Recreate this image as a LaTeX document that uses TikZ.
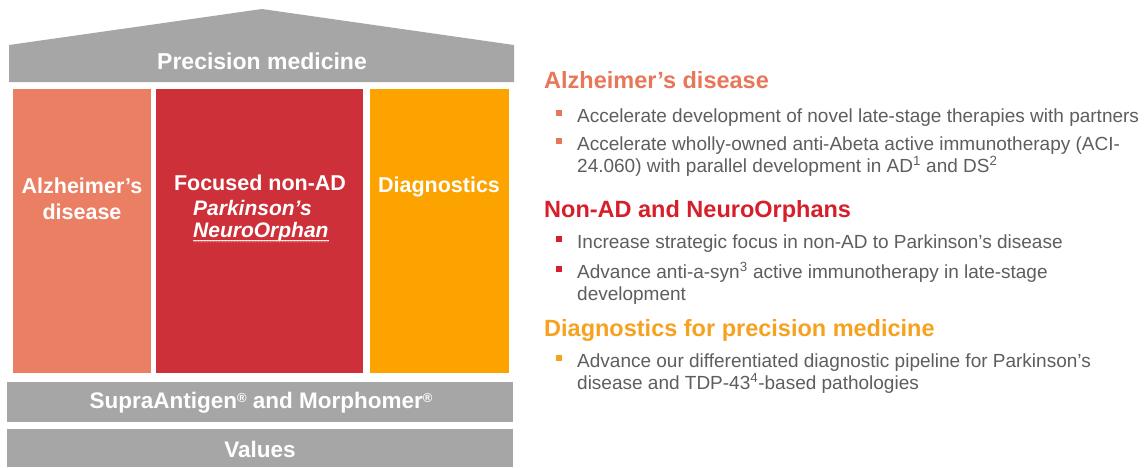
\documentclass[tikz,border=0pt]{standalone}
\usepackage{fontspec}
\setmainfont{Liberation Sans}
\usetikzlibrary{decorations.pathmorphing}
\definecolor{roofgray}{HTML}{A6A6A6}
\definecolor{alzc}{HTML}{EA7F63}
\definecolor{nonadc}{HTML}{CD3038}
\definecolor{diagc}{HTML}{FDA300}
\definecolor{alzh}{HTML}{E8775A}
\definecolor{nonadh}{HTML}{D71F2B}
\definecolor{diagh}{HTML}{F7A21E}
\definecolor{bodyc}{HTML}{5E5E5E}
\newcommand{\regsup}{\raisebox{0.55ex}{\fontsize{13}{13}\selectfont\bfseries ®}}
\begin{document}
\begin{tikzpicture}[x=1pt,y=-1pt,
  lbl/.style={text=white,font=\fontsize{21.5}{26}\selectfont\bfseries,inner sep=0pt,align=center},
  ital/.style={text=white,font=\fontsize{21}{25}\selectfont\bfseries\itshape,inner sep=0pt,anchor=west},
  pillar/.style={fill=#1,minimum height=284pt,inner sep=0pt,anchor=north west},
  band/.style={fill=roofgray,minimum width=506pt,inner sep=0pt,anchor=north west},
  hdr/.style={anchor=base west,inner sep=0pt,font=\fontsize{23.5}{27}\selectfont\bfseries},
  body/.style={anchor=base west,inner sep=0pt,text=bodyc,font=\fontsize{19}{22}\selectfont},
  bul/.style={fill=#1,minimum size=5.5pt,inner sep=0pt,anchor=center}]
\useasboundingbox[fill=white] (0,0) rectangle (1145,467);
% roof
\fill[roofgray] (9,45) -- (262,9) -- (514,45) -- (514,82) -- (9,82) -- cycle;
\node[lbl,font=\fontsize{23}{27}\selectfont\bfseries] (prec) at (262,61) {Precision medicine};
% pillars
\node[pillar=alzc,minimum width=138pt] (col1) at (13,89) {};
\node[pillar=nonadc,minimum width=207pt] (col2) at (156,89) {};
\node[pillar=diagc,minimum width=139pt] (col3) at (370,89) {};
\node[lbl] (alzl) at (82,199) {Alzheimer’s\\disease};
\node[lbl] (focl) at (260,183) {Focused non-AD};
\node[ital] (park) at (193,208) {Parkinson’s};
\node[ital] (neuro) at (193,232) {NeuroOrphan};
\draw[white,line width=0.9pt] ([yshift=2pt]neuro.south west) -- ([yshift=2pt]neuro.south east);
\draw[red!55!white,line width=0.6pt,decorate,decoration={snake,amplitude=0.7pt,segment length=3pt}]
  ([yshift=0.5pt]neuro.south west) -- ([yshift=0.5pt]neuro.south east);
\node[lbl] (diagl) at (439,187) {Diagnostics};
% foundation bands
\node[band,minimum height=40pt] (supra) at (7,382) {};
\node[lbl,font=\fontsize{22.5}{26}\selectfont\bfseries] (supral) at (261,403) {SupraAntigen\regsup{} and Morphomer\regsup};
\node[band,minimum height=38pt] (vals) at (7,429) {};
\node[lbl,font=\fontsize{22.5}{26}\selectfont\bfseries] (valsl) at (260,449) {Values};
% right text
\node[hdr,text=alzh] (h1) at (544,88) {Alzheimer’s disease};
\node[bul=alzh] (b1) at (559,113) {};
\node[body] (a1) at (577,122) {Accelerate development of novel late-stage therapies with partners};
\node[bul=alzh] (b2) at (559,141) {};
\node[body] (a2) at (577,150) {Accelerate wholly-owned anti-Abeta active immunotherapy (ACI-};
\node[body] (a2b) at (577,172) {24.060) with parallel development in AD\textsuperscript{1} and DS\textsuperscript{2}};
\node[hdr,text=nonadh] (h2) at (544,217) {Non-AD and NeuroOrphans};
\node[bul=nonadh] (b3) at (559,239) {};
\node[body] (n1) at (577,248) {Increase strategic focus in non-AD to Parkinson’s disease};
\node[bul=nonadh] (b4) at (559,269) {};
\node[body] (n2) at (577,278) {Advance anti-a-syn\textsuperscript{3} active immunotherapy in late-stage};
\node[body] (n2b) at (577,300) {development};
\node[hdr,text=diagh] (h3) at (544,336) {Diagnostics for precision medicine};
\node[bul=diagh] (b5) at (559,358) {};
\node[body] (d1) at (577,367) {Advance our differentiated diagnostic pipeline for Parkinson’s};
\node[body] (d1b) at (577,389) {disease and TDP-43\textsuperscript{4}-based pathologies};
\end{tikzpicture}
\end{document}
